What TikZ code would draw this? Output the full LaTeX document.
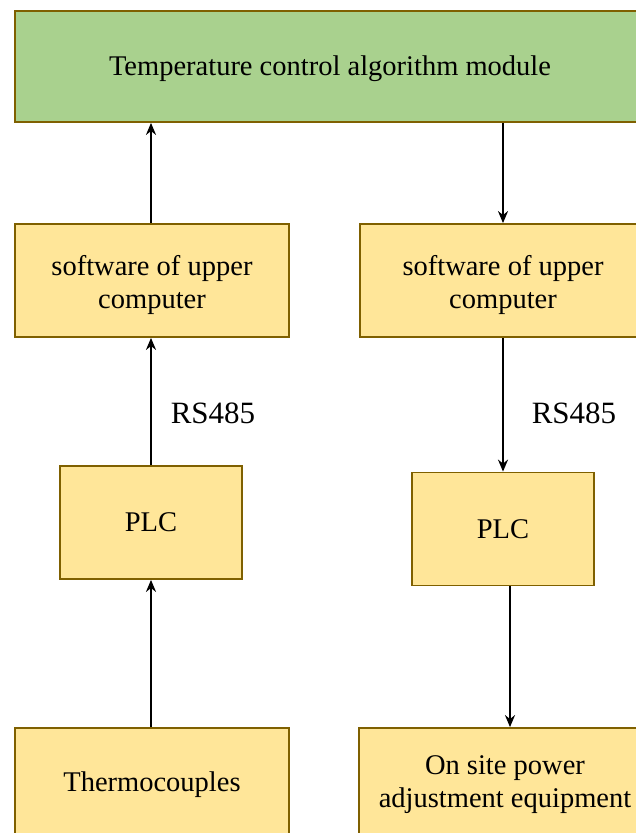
\documentclass[tikz,border=0pt]{standalone}
\usepackage{fontspec}
\setmainfont{Liberation Serif}
\usetikzlibrary{arrows.meta}
\definecolor{modgreen}{HTML}{A9D18E}
\definecolor{boxyellow}{HTML}{FFE699}
\definecolor{boxedge}{HTML}{7F6000}
\tikzset{
  block/.style={draw=boxedge, line width=1.8pt, inner sep=0pt, align=center,
    font=\fontsize{28.5}{33}\selectfont, text=black},
  modblock/.style={block, fill=modgreen},
  unitblock/.style={block, fill=boxyellow},
  flow/.style={line width=2pt, -{Stealth[length=12pt, width=10pt]}},
  linklabel/.style={font=\fontsize{31}{36}\selectfont}
}
\begin{document}
\begin{tikzpicture}[x=1pt, y=-1pt]
  \useasboundingbox (0,0) rectangle (636,833);
  \clip (0,0) rectangle (636,833);
  % top module
  \node[modblock, minimum width=630pt, minimum height=111pt] (algo) at (330,66.5) {};
  \node[font=\fontsize{28.5}{33}\selectfont] at (330,69) {Temperature control algorithm module};
  % left column: measurement path
  \node[unitblock, minimum width=274pt, minimum height=113pt] (softL) at (152,280.5) {};
  \node[font=\fontsize{28.5}{33}\selectfont, align=center] at (152,285)
    {software of upper\\computer};
  \node[unitblock, minimum width=182pt, minimum height=113pt] (plcL) at (151,522.5) {PLC};
  \node[unitblock, minimum width=274pt, minimum height=113pt] (thermo) at (152,784.5)
    {Thermocouples};
  % right column: actuation path
  \node[unitblock, minimum width=286pt, minimum height=113pt] (softR) at (503,280.5) {};
  \node[font=\fontsize{28.5}{33}\selectfont, align=center] at (503,285)
    {software of upper\\computer};
  \node[unitblock, minimum width=182pt, minimum height=113pt] (plcR) at (503,529) {PLC};
  \node[unitblock, minimum width=292pt, minimum height=113pt] (power) at (505,784.5)
    {On site power\\adjustment equipment};
  % bus labels
  \node[linklabel] (busL) at (213,413) {RS485};
  \node[linklabel] (busR) at (574,413) {RS485};
  % connectors
  \draw[flow] (thermo.north -| plcL.south) -- (plcL.south);
  \draw[flow] (plcL.north) -- (plcL.north |- softL.south);
  \draw[flow] (softL.north -| plcL.north) -- (plcL.north |- algo.south);
  \draw[flow] (algo.south -| softR.north) -- (softR.north);
  \draw[flow] (softR.south) -- (softR.south |- plcR.north);
  \draw[flow] ([xshift=7pt]plcR.south) -- ([xshift=7pt]plcR.south |- power.north);
\end{tikzpicture}
\end{document}
